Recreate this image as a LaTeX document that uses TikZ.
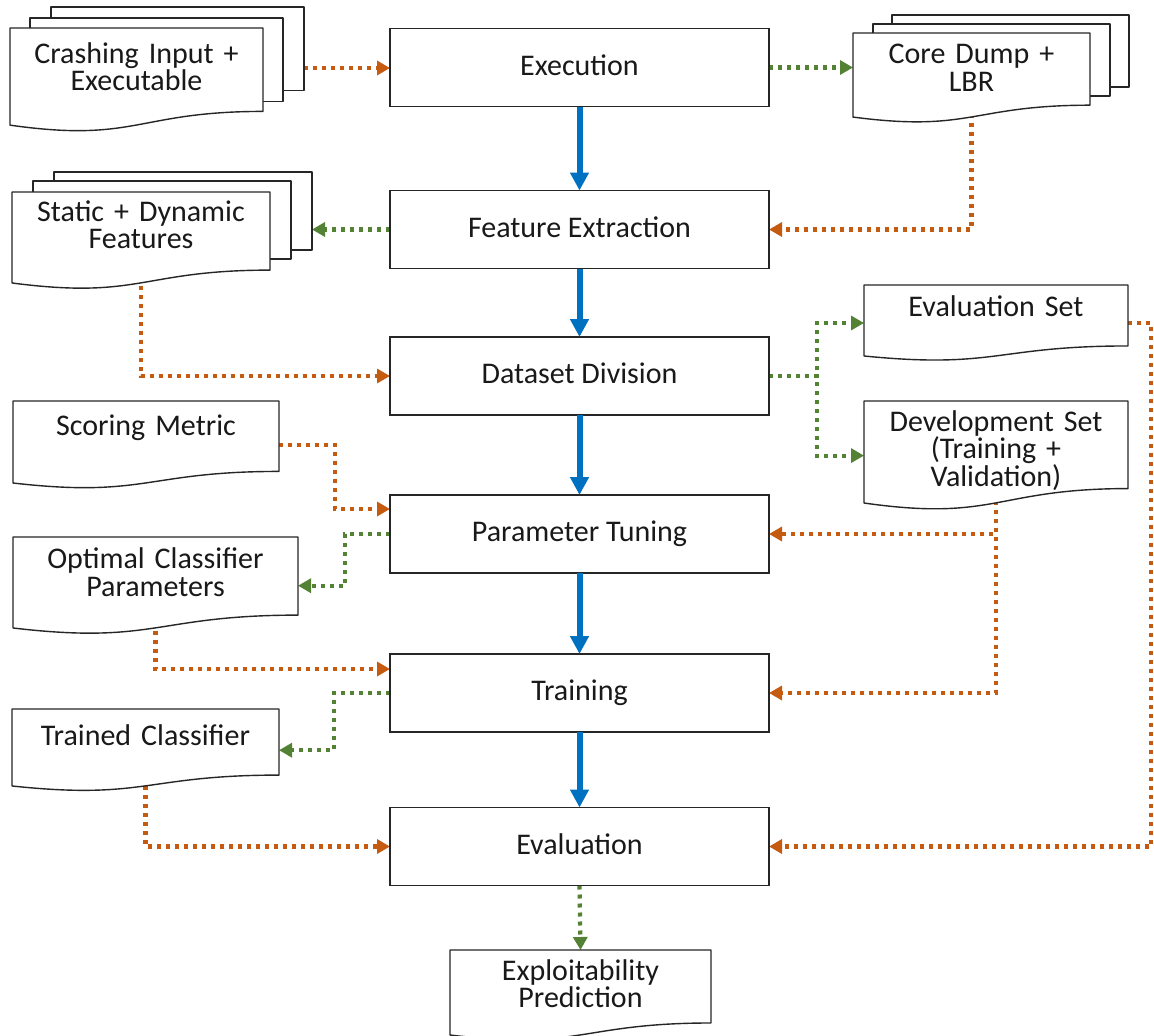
\documentclass[tikz,border=0pt]{standalone}
\usepackage{fontspec}
\setmainfont{Carlito}
\usetikzlibrary{arrows.meta,calc}
\definecolor{orng}{RGB}{197,90,17}
\definecolor{grn}{RGB}{84,130,53}
\definecolor{blu}{RGB}{0,112,192}
\pgfdeclarelayer{bg}
\pgfdeclarelayer{conn}
\pgfdeclarelayer{sheets}
\pgfdeclarelayer{docs}
\pgfsetlayers{bg,conn,sheets,docs,main}
\tikzset{
  docline/.style={draw=black!85, line width=1.4pt, fill=white, line join=round},
  txtfont/.style={font=\fontsize{30}{27.5}\selectfont, text=black!90},
  proc/.style={txtfont, draw=black!85, line width=1.4pt, fill=white, minimum width=379pt,
    minimum height=78pt, inner sep=0pt, outer sep=0pt, text height=20pt, text depth=5pt},
  doc/.style={txtfont, inner sep=0pt, outer sep=0pt, align=center, text height=0pt},
  dotline/.style={line width=4.2pt, dash pattern=on 4pt off 5pt},
  oarr/.style={dotline, draw=orng, -{Triangle[length=13pt,width=14pt]}},
  garr/.style={dotline, draw=grn, -{Triangle[length=13pt,width=14pt]}},
  barr/.style={draw=blu, line width=6pt, -{Triangle[length=18pt,width=18pt]}},
}
\newcommand\docoutline[1]{%
  \begin{pgfonlayer}{docs}
  \draw[docline] let \p1=(#1.north west), \p2=(#1.south east), \n1={\y1-\y2} in
    (\x1,\y1) -- (\x2,\y1) -- (\x2,{\y1-0.802*\n1})
    .. controls ({(\x1+\x2)/2},{\y1-0.802*\n1}) and ({(\x1+\x2)/2},{\y1-1.107*\n1}) ..
    (\x1,{\y1-0.934*\n1}) -- cycle;
  \end{pgfonlayer}}
\newcommand\backsheet[3]{%
  \begin{pgfonlayer}{sheets}
  \draw[docline] let \p1=(#1.north west), \p2=(#1.south east), \n1={\y1-\y2} in
    (\x1+#2,\y1+#3) rectangle (\x2+#2,{\y1-0.802*\n1+#3});
  \end{pgfonlayer}}
\begin{document}
\begin{tikzpicture}[x=1pt,y=-1pt]
\useasboundingbox (0,0) rectangle (1154,1036);
\begin{pgfonlayer}{bg}
\fill[white] (0,0) rectangle (1154,1036);
\end{pgfonlayer}

% process boxes
\node[proc] (exec)  at (579.5,67.5)  {Execution};
\node[proc] (feat)  at (579.5,229.5) {Feature Extraction};
\node[proc] (dsd)   at (579.5,376)   {Dataset Division};
\node[proc] (pt)    at (579.5,534)   {Parameter Tuning};
\node[proc] (train) at (579.5,693)   {Training};
\node[proc] (eval)  at (579.5,846.5) {Evaluation};

% documents
\node[doc, text width=253pt, minimum height=104pt, text depth=34pt] (crash) at (136.5,80) {Crashing Input +\\Executable};
\node[doc, text width=237pt, minimum height=90pt, text depth=29pt] (core) at (971.5,78) {Core Dump +\\LBR};
\node[doc, text width=258pt, minimum height=97.4pt, text depth=39pt] (static) at (141,240.7) {Static + Dynamic\\Features};
\node[doc, text width=264pt, minimum height=76pt, text depth=14pt] (evset) at (996,323) {Evaluation Set};
\node[doc, text width=264pt, minimum height=109.2pt, text depth=49pt] (devset) at (996,455.6) {Development Set\\(Training +\\Validation)};
\node[doc, text width=266pt, minimum height=87.8pt, text depth=18pt] (score) at (146,444.9) {Scoring Metric};
\node[doc, text width=285pt, minimum height=97.4pt, text depth=34pt] (opt) at (155.5,585.7) {Optimal Classifier\\Parameters};
\node[doc, text width=267pt, minimum height=82.4pt, text depth=9pt] (trained) at (145.5,750.2) {Trained Classifier};
\node[doc, text width=261pt, minimum height=91pt, text depth=31pt] (exploit) at (580.5,995.5) {Exploitability\\Prediction};

\backsheet{crash}{41}{21}\backsheet{crash}{20}{10}
\backsheet{core}{39}{18}\backsheet{core}{20}{9}
\backsheet{static}{42}{20}\backsheet{static}{21}{11}
\docoutline{crash}\docoutline{core}\docoutline{static}
\docoutline{evset}\docoutline{devset}\docoutline{score}
\docoutline{opt}\docoutline{trained}\docoutline{exploit}

% blue flow
\draw[barr] (exec.south) -- (feat.north);
\draw[barr] (feat.south) -- (dsd.north);
\draw[barr] (dsd.south) -- (pt.north);
\draw[barr] (pt.south) -- (train.north);
\draw[barr] (train.south) -- (eval.north);

% dotted connectors
\coordinate (crashout) at ([xshift=41pt,yshift=12pt]crash.east);
\begin{pgfonlayer}{conn}
\draw[oarr] (crashout) -- (crashout -| exec.west);
\draw[garr] (exec.east) -- (exec.east -| core.west);
\draw[oarr] (core.center) |- (feat.east);
\draw[garr] (feat.west) -- ++(-78,0);
\draw[oarr] (static.center) |- (dsd.west);
\draw[garr] (dsd.east) -- ++(48,0) |- (evset.west);
\draw[garr] (dsd.east) -- ++(48,0) |- (devset.west);
\draw[oarr] (evset.east) -- ++(23,0) |- (eval.east);
\draw[oarr] (devset.center) |- (pt.east);
\draw[oarr] (devset.center) |- (train.east);
\draw[oarr] (score.east) -- ++(56,0) |- ([yshift=25pt]pt.west);
\draw[garr] (pt.west) -- ++(-45,0) |- (opt.east);
\draw[oarr] (opt.center) |- ([yshift=24pt]train.west);
\draw[garr] (train.west) -- ++(-56,0) |- (trained.east);
\draw[oarr] (trained.center) |- (eval.west);
\draw[garr] (eval.south) -- (exploit.north);
\end{pgfonlayer}
\end{tikzpicture}
\end{document}
